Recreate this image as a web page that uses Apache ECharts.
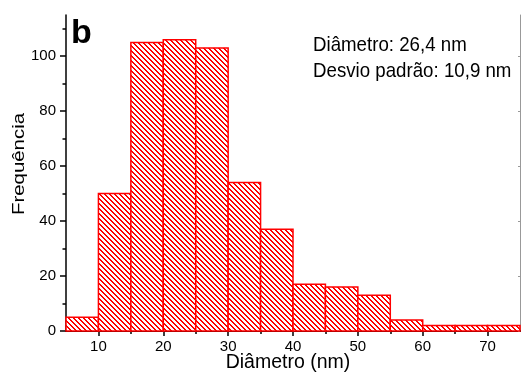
<!DOCTYPE html>
<html>
<head>
<meta charset="utf-8">
<script src="https://cdn.jsdelivr.net/npm/echarts@6/dist/echarts.min.js"></script>
<style>
  html, body { margin: 0; padding: 0; background: #fff; }
  #chart { width: 521px; height: 374px; }
</style>
</head>
<body>
<div id="chart"></div>
<script>
// Histogram bins (nm) and particle counts
const binStart = [5, 10, 15, 20, 25, 30, 35, 40, 45, 50, 55, 60, 65, 70];
const binEnd   = [10, 15, 20, 25, 30, 35, 40, 45, 50, 55, 60, 65, 70, 75];
const counts   = [5, 50, 105, 106, 103, 54, 37, 17, 16, 13, 4, 2, 2, 2];

// Axis ticks
const xTickLabels = [10, 20, 30, 40, 50, 60, 70];
const xMinorTicks = [15, 25, 35, 45, 55, 65];
const xAllTicks   = [10, 15, 20, 25, 30, 35, 40, 45, 50, 55, 60, 65, 70];
const yTickLabels = [0, 20, 40, 60, 80, 100];
const yMinorTicks = [10, 30, 50, 70, 90, 110];

// Texts
const panelLetter = 'b';
const statLines = ['Diâmetro: 26,4 nm', 'Desvio padrão: 10,9 nm'];
const xTitle = 'Diâmetro (nm)';
const yTitle = 'Frequência';

const FONT = '"Liberation Sans", Arial, sans-serif';
const RED = '#ff0000';

// Pixel-crisp diagonal hatch tile ("\" stripes) used to fill the bars
function makeHatch() {
  const p = 5;
  const c = document.createElement('canvas');
  c.width = p; c.height = p;
  const ctx = c.getContext('2d');
  ctx.fillStyle = '#ffffff';
  ctx.fillRect(0, 0, p, p);
  ctx.fillStyle = RED;
  for (let y = 0; y < p; y++) {
    for (let x = 0; x < p; x++) {
      if ((((x - y) % p) + p) % p < 2) ctx.fillRect(x, y, 1, 1);
    }
  }
  return c;
}
const hatch = { image: makeHatch(), repeat: 'repeat' };

const histData = binStart.map((s, i) => [s, binEnd[i], counts[i]]);

const chart = echarts.init(document.getElementById('chart'), null, { renderer: 'canvas' });

const black = { color: '#000', width: 1.5 };

chart.setOption({
  animation: false,
  backgroundColor: '#fff',
  grid: { left: 66, right: 1, top: 15, bottom: 43 },
  xAxis: [
    {
      type: 'value', min: 5, max: 75, position: 'bottom',
      axisLine: { lineStyle: black },
      axisTick: { customValues: xTickLabels, length: 5, lineStyle: black },
      axisLabel: { customValues: xTickLabels, fontSize: 15, color: '#000', fontFamily: FONT, margin: 8 },
      splitLine: { show: false }
    },
    {
      type: 'value', min: 5, max: 75, position: 'bottom',
      axisLine: { show: false },
      axisTick: { customValues: xMinorTicks, length: 3, lineStyle: black },
      axisLabel: { show: false },
      splitLine: { show: false }
    },
    {
      type: 'value', min: 5, max: 75, position: 'top',
      axisLine: { lineStyle: { color: '#000', width: 2 } },
      axisTick: { customValues: xAllTicks, length: 2, lineStyle: black },
      axisLabel: { show: false },
      splitLine: { show: false }
    }
  ],
  yAxis: [
    {
      type: 'value', min: 0, max: 115, position: 'left',
      axisLine: { lineStyle: black },
      axisTick: { customValues: yTickLabels, length: 6, lineStyle: black },
      axisLabel: { customValues: yTickLabels, fontSize: 15, color: '#000', fontFamily: FONT, margin: 10 },
      splitLine: { show: false }
    },
    {
      type: 'value', min: 0, max: 115, position: 'left',
      axisLine: { show: false },
      axisTick: { customValues: yMinorTicks, length: 3.5, lineStyle: black },
      axisLabel: { show: false },
      splitLine: { show: false }
    },
    {
      type: 'value', min: 0, max: 115, position: 'right',
      axisLine: { lineStyle: { color: '#999', width: 1 } },
      axisTick: { customValues: yTickLabels, inside: true, length: 2, lineStyle: { color: '#999', width: 1 } },
      axisLabel: { show: false },
      splitLine: { show: false }
    }
  ],
  series: [
    {
      type: 'custom',
      xAxisIndex: 0,
      yAxisIndex: 0,
      data: histData,
      encode: { x: [0, 1], y: 2 },
      renderItem: function (params, api) {
        const topLeft = api.coord([api.value(0), api.value(2)]);
        const bottomRight = api.coord([api.value(1), 0]);
        return {
          type: 'rect',
          shape: {
            x: topLeft[0],
            y: topLeft[1],
            width: bottomRight[0] - topLeft[0],
            height: bottomRight[1] - topLeft[1]
          },
          style: { fill: hatch, stroke: RED, lineWidth: 1.5 }
        };
      }
    }
  ],
  graphic: [
    {
      type: 'text', x: 71, y: 34, z: 10,
      style: {
        text: panelLetter, x: 0, y: 0,
        font: 'bold 34px ' + FONT, fill: '#000',
        align: 'left', verticalAlign: 'middle',
        textAlign: 'left', textVerticalAlign: 'middle'
      }
    },
    {
      type: 'text', x: 313, y: 45, scaleX: 0.89, z: 10,
      style: {
        text: statLines[0], x: 0, y: 0,
        font: '21px ' + FONT, fill: '#000',
        align: 'left', verticalAlign: 'middle',
        textAlign: 'left', textVerticalAlign: 'middle'
      }
    },
    {
      type: 'text', x: 313, y: 71.5, scaleX: 0.89, z: 10,
      style: {
        text: statLines[1], x: 0, y: 0,
        font: '21px ' + FONT, fill: '#000',
        align: 'left', verticalAlign: 'middle',
        textAlign: 'left', textVerticalAlign: 'middle'
      }
    },
    {
      type: 'text', x: 288, y: 363, z: 10,
      style: {
        text: xTitle, x: 0, y: 0,
        font: '19.5px ' + FONT, fill: '#000',
        align: 'center', verticalAlign: 'middle',
        textAlign: 'center', textVerticalAlign: 'middle'
      }
    },
    {
      type: 'text', x: 19, y: 164, rotation: Math.PI / 2, scaleX: 1.2, z: 10,
      style: {
        text: yTitle, x: 0, y: 0,
        font: '17px ' + FONT, fill: '#000',
        align: 'center', verticalAlign: 'middle',
        textAlign: 'center', textVerticalAlign: 'middle'
      }
    }
  ]
});
</script>
</body>
</html>
